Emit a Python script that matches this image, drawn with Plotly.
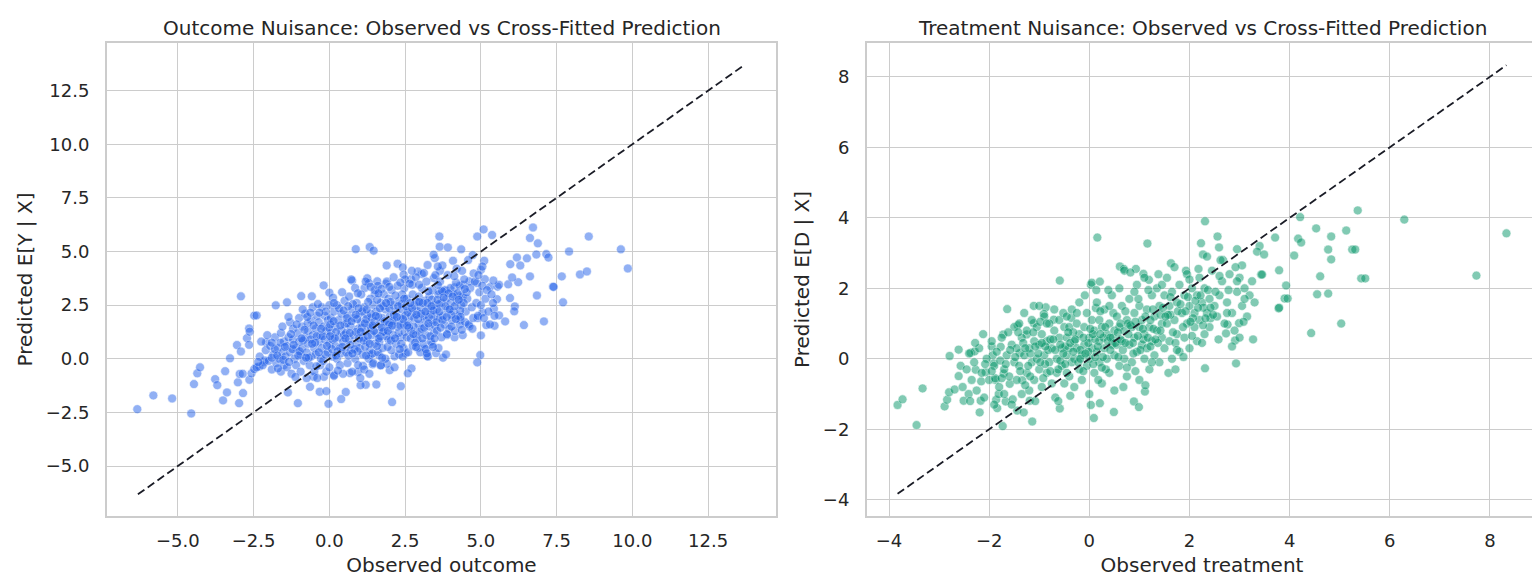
import plotly.graph_objects as go

# Outcome nuisance: (observed outcome, predicted E[Y|X])
outcome_sparse = [
    (-6.34, -2.35), (-5.81, -1.71), (-5.19, -1.85), (-4.56, -2.55), (-4.47, -1.18), (-4.36, -0.68),
    (-4.27, -0.40), (-3.77, -0.95), (-3.70, -1.23), (-3.44, -0.58), (-3.51, -1.94), (-3.38, -1.57),
    (-3.28, 0.02), (-3.05, 0.64), (-2.98, -2.07), (-3.02, -1.10), (-2.85, -1.60), (-2.92, 2.91),
    (-2.92, 0.34), (-2.72, 0.96), (-2.65, 0.65), (-2.65, 1.41), (-2.63, 1.26), (-2.48, 2.01),
    (-2.40, 2.02), (-2.96, -0.71), (-2.86, -0.70), (-2.64, -0.98), (-2.57, -0.68), (-2.48, -0.48),
    (-2.31, -0.36), (-2.15, -0.15), (-2.13, -0.08), (-2.09, 0.76), (-1.77, 2.49), (-1.40, 2.63),
    (-1.37, -1.57),
    (0.87, 5.11), (1.33, 5.21), (1.46, 5.04), (1.89, 4.35), (2.25, 4.43), (2.42, 4.26), (2.45, 3.92),
    (-0.19, 3.42), (0.0, 3.08), (0.75, 3.64), (1.25, 3.75), (1.31, 3.53), (1.16, 3.30), (1.58, 3.61),
    (1.86, 3.50), (-0.93, 2.92), (-0.58, 2.91), (1.50, 3.05), (2.69, 3.71), (3.05, 3.95), (2.92, 4.07),
    (3.24, 4.37), (3.48, 4.69), (3.64, 5.22), (4.73, 4.83), (3.65, 4.10), (3.73, 4.35), (3.44, 3.76),
    (3.63, 3.14), (3.86, 3.17), (4.13, 3.33), (4.41, 3.45), (4.62, 3.61), (4.87, 3.53), (5.30, 3.34),
    (3.39, 0.67), (3.15, 0.47), (2.92, 0.51), (3.22, 0.14), (3.52, 0.26), (2.74, 3.45), (2.47, 3.29),
    (2.71, -0.45), (2.59, -0.68), (2.36, -1.28), (1.99, -0.53), (1.55, -1.20), (1.20, -1.21),
    (1.03, -1.23), (0.54, -1.55), (0.39, -1.88), (-0.03, -2.10), (2.07, -2.02), (-1.04, -2.07),
    (-0.64, -1.31), (-0.32, -1.54), (-0.10, -1.51), (-0.52, -0.84), (-0.18, -0.84), (0.15, -0.75),
    (0.68, -0.67), (0.94, -0.62), (1.11, -0.33), (1.43, -0.26), (1.69, -0.31), (1.90, -0.23),
    (2.15, 0.11), (2.52, 0.25), (1.64, 0.16), (1.37, 0.17),
    (3.63, 5.70), (3.91, 5.19), (4.35, 5.10), (5.09, 6.03), (4.88, 5.70), (5.37, 5.77), (6.72, 6.12),
    (6.62, 5.63), (6.88, 5.38), (8.56, 5.70), (9.62, 5.10), (9.85, 4.21), (7.91, 5.0), (7.16, 4.88),
    (7.23, 4.72), (6.83, 4.86), (6.52, 4.68), (6.19, 4.72), (5.97, 4.41), (6.30, 4.35), (6.62, 3.84),
    (7.67, 3.84), (8.27, 3.93), (8.50, 4.07), (7.38, 3.36), (7.40, 3.35), (6.85, 2.95), (7.71, 2.63),
    (5.96, 2.83), (6.12, 2.44), (6.10, 2.21), (6.23, 3.57), (5.90, 3.47), (6.03, 3.79), (5.55, 3.36),
    (5.60, 3.45), (5.41, 3.65), (5.53, 2.78), (5.43, 2.33), (5.60, 2.02), (5.80, 1.74), (5.45, 1.54),
    (5.18, 1.57), (6.42, 1.57), (7.08, 1.74), (5.0, 1.09), (4.98, 0.17), (4.88, -0.17), (3.75, 0.05),
    (4.13, 1.0), (3.88, 1.10), (4.32, 1.82), (4.62, 1.51), (5.05, 2.16), (4.89, 1.90), (5.13, 3.71),
    (5.0, 4.15), (4.76, 3.98), (5.11, 4.57), (4.32, 2.95), (3.44, 4.85), (4.08, 4.57),
]

outcome_dense = [
    (-2.4, -0.4), (-2.3, 0.1), (-2.2, -0.3), (-2.1, 0.4), (-2.0, -0.1), (-1.95, 0.6), (-1.9, -0.5),
    (-1.85, 0.2), (-1.8, 1.0), (-1.75, -0.2), (-1.7, 0.5), (-1.65, 0.0), (-1.6, 1.2), (-1.6, -0.6),
    (-1.55, 0.3), (-1.5, 0.8), (-1.5, -0.3), (-2.25, 0.8), (-2.05, 1.1), (-1.9, 0.05), (-1.7, -0.45),
    (-1.55, 1.5), (-2.35, -0.15), (-1.8, 0.45), (-1.62, 0.75),
    (-1.45, 0.1), (-1.4, 0.6), (-1.4, -0.4), (-1.35, 1.0), (-1.3, 1.7), (-1.3, 0.3), (-1.25, -0.7),
    (-1.2, 0.9), (-1.2, 1.4), (-1.15, 0.0), (-1.1, 0.5), (-1.1, -0.3), (-1.05, 1.2), (-1.0, 0.8),
    (-1.0, 1.9), (-0.95, -0.6), (-0.95, 0.2), (-0.9, 1.5), (-0.9, 0.5), (-0.85, -0.1), (-0.8, 1.0),
    (-0.8, 2.1), (-0.75, 0.3), (-0.75, -0.9), (-0.7, 1.3), (-0.7, 0.7), (-0.65, -0.3), (-0.6, 1.8),
    (-0.6, 0.1), (-0.55, 1.1), (-0.55, 2.4), (-0.5, 0.5), (-0.5, -0.6), (-1.35, 1.95), (-1.22, 0.45),
    (-0.88, 2.3), (-1.08, 1.6), (-0.62, 0.9), (-1.47, 0.55), (-0.72, 1.65),
    (-0.45, 1.4), (-0.45, 0.2), (-0.4, 2.0), (-0.4, -0.9), (-0.35, 0.8), (-0.35, 1.7), (-0.3, -0.3),
    (-0.3, 1.1), (-0.25, 2.4), (-0.25, 0.5), (-0.2, 1.5), (-0.2, -0.1), (-0.15, 0.9), (-0.15, 2.0),
    (-0.1, -0.6), (-0.1, 1.3), (-0.05, 0.3), (-0.05, 1.8), (0.0, 0.7), (0.0, 2.5), (0.0, -0.4),
    (0.05, 1.2), (0.05, 1.9), (0.1, 0.1), (0.1, 0.9), (0.15, 2.2), (0.15, -0.8), (0.2, 1.5), (0.2, 0.6),
    (0.25, 2.5), (0.25, 0.0), (0.3, 1.0), (0.3, 1.8), (0.35, -0.3), (0.35, 0.5), (0.4, 2.1), (0.4, 1.3),
    (0.45, 0.8), (0.45, -0.7), (0.5, 1.6), (0.5, 2.7), (-0.42, 1.05), (-0.28, 0.0), (-0.12, 2.2),
    (0.08, 0.45), (0.22, 1.25), (0.38, 0.25), (0.48, 1.1), (-0.02, 1.45), (0.12, 2.85), (-0.38, 2.55),
    (0.28, -0.55),
    (0.55, 0.3), (0.55, 1.2), (0.6, 2.0), (0.6, -0.2), (0.65, 0.9), (0.65, 2.9), (0.7, 1.5), (0.7, 0.4),
    (0.75, 2.3), (0.75, -0.6), (0.8, 1.1), (0.8, 1.9), (0.85, 0.0), (0.85, 3.3), (0.9, 0.7), (0.9, 2.6),
    (0.95, 1.4), (0.95, -0.3), (1.0, 2.1), (1.0, 0.5), (1.05, 1.7), (1.05, 3.0), (1.1, 0.2), (1.1, 1.0),
    (1.15, 2.4), (1.15, -0.5), (1.2, 1.3), (1.2, 3.6), (1.25, 0.8), (1.25, 2.0), (1.3, 0.0), (1.3, 1.6),
    (1.35, 2.8), (1.35, 0.4), (1.4, 1.9), (1.4, 1.1), (1.45, -0.2), (1.45, 2.5), (1.5, 0.7), (1.5, 3.2),
    (0.58, 1.65), (0.68, 0.65), (0.78, 2.55), (0.88, 1.25), (0.98, 0.95), (1.08, 2.2), (1.18, 0.55),
    (1.28, 2.65), (1.38, 1.45), (1.48, 1.75), (0.62, 2.45), (0.92, 1.85), (1.22, 1.85), (1.42, 0.25),
    (0.72, 3.7), (1.02, -0.9), (1.32, -0.7),
    (1.55, 1.2), (1.55, 2.2), (1.6, 0.3), (1.6, 3.4), (1.65, 1.6), (1.65, 0.8), (1.7, 2.6), (1.7, -0.3),
    (1.75, 1.9), (1.75, 0.5), (1.8, 3.0), (1.8, 1.3), (1.85, 2.3), (1.85, 0.0), (1.9, 1.7), (1.9, 3.6),
    (1.95, 0.9), (1.95, 2.8), (2.0, 1.4), (2.0, 2.0), (2.05, 0.4), (2.05, 3.2), (2.1, 1.1), (2.1, 2.5),
    (2.15, 1.8), (2.15, -0.4), (2.2, 2.2), (2.2, 0.7), (2.25, 3.4), (2.25, 1.5), (2.3, 2.7), (2.3, 0.2),
    (2.35, 1.9), (2.35, 1.0), (2.4, 3.0), (2.4, 2.3), (2.45, 0.5), (2.45, 1.6), (2.5, 2.0), (2.5, 3.7),
    (1.58, 2.75), (1.68, 1.05), (1.78, 2.45), (1.88, 1.05), (1.98, 2.35), (2.08, 1.75), (2.18, 2.95),
    (2.28, 1.2), (2.38, 2.55), (2.48, 1.25), (1.62, 1.95), (1.92, 0.55), (2.12, 3.8), (2.42, 0.1),
    (1.72, 3.25), (2.02, 2.65),
    (2.55, 1.0), (2.55, 2.8), (2.6, 1.7), (2.6, 0.3), (2.65, 2.3), (2.65, 3.5), (2.7, 1.3), (2.7, 2.0),
    (2.75, 0.6), (2.75, 3.0), (2.8, 1.9), (2.8, 2.5), (2.85, 1.1), (2.85, 3.8), (2.9, 2.2), (2.9, 0.9),
    (2.95, 1.6), (2.95, 2.9), (3.0, 0.3), (3.0, 2.4), (3.05, 1.4), (3.05, 3.3), (3.1, 2.0), (3.1, 0.7),
    (3.15, 2.7), (3.15, 1.8), (3.2, 1.1), (3.2, 3.6), (3.25, 2.3), (3.25, 0.1), (3.3, 1.5), (3.3, 2.9),
    (3.35, 2.1), (3.35, 0.8), (3.4, 3.2), (3.4, 1.8), (3.45, 2.5), (3.45, 1.2), (3.5, 2.0), (3.5, 3.9),
    (2.58, 2.15), (2.68, 0.95), (2.78, 1.5), (2.88, 2.65), (2.98, 1.25), (3.08, 2.6), (3.18, 0.45),
    (3.28, 1.95), (3.38, 2.75), (3.48, 1.55), (2.72, 4.1), (3.12, 4.0), (3.22, 0.25),
    (3.55, 2.3), (3.55, 1.3), (3.6, 3.0), (3.6, 0.5), (3.65, 1.9), (3.65, 3.6), (3.7, 2.6), (3.7, 1.0),
    (3.75, 2.0), (3.8, 3.2), (3.8, 1.6), (3.85, 2.8), (3.85, 0.2), (3.9, 2.3), (3.9, 3.9), (3.95, 1.4),
    (4.0, 2.6), (4.0, 3.3), (4.05, 1.8), (4.1, 2.2), (4.1, 3.0), (4.15, 1.3), (4.2, 2.7), (4.2, 4.2),
    (4.25, 2.0), (4.3, 3.4), (4.3, 1.6), (4.35, 2.5), (4.4, 2.9), (4.4, 1.1), (4.45, 3.7), (4.5, 2.2),
    (3.58, 4.3), (3.72, 3.15), (3.88, 1.15), (4.02, 2.05), (4.18, 3.55), (4.32, 2.25), (4.48, 1.7),
    (3.62, 2.55),
    (4.55, 2.8), (4.6, 1.6), (4.65, 3.3), (4.7, 2.4), (4.75, 1.9), (4.8, 3.6), (4.85, 2.6), (4.9, 2.0),
    (4.95, 3.1), (5.0, 2.5), (5.05, 3.4), (5.1, 1.9), (5.15, 2.8), (5.2, 3.2), (5.25, 2.2), (5.3, 1.6),
    (5.35, 3.0), (5.4, 2.6), (4.58, 4.6), (4.72, 1.4), (4.92, 3.9), (5.05, 4.3), (5.45, 2.0),
]

# second pass over the crowded middle of the outcome cloud
outcome_core = [
    (-0.98, 0.35), (-0.82, 1.35), (-0.68, 0.05), (-0.52, 1.55), (-0.47, 0.75), (-0.33, 2.15),
    (-0.22, 1.05), (-0.08, 0.6), (0.03, 1.6), (0.18, 0.95), (0.32, 2.35), (0.43, 0.55), (0.57, 1.9),
    (0.67, 1.2), (0.83, 0.45), (0.97, 2.35), (1.07, 1.45), (1.13, 0.85), (1.27, 1.05), (1.37, 2.1),
    (1.47, 1.3), (1.57, 0.6), (1.67, 2.35), (1.77, 1.25), (1.83, 1.75), (1.97, 1.6), (2.03, 0.85),
    (2.13, 2.05), (2.27, 2.45), (2.33, 1.55), (2.43, 1.85), (2.53, 2.45), (2.63, 1.45), (2.73, 2.35),
    (2.83, 0.75), (2.93, 1.85), (3.03, 2.1), (3.13, 1.45), (3.23, 2.6), (3.33, 1.05), (3.43, 2.25),
    (3.53, 1.7), (3.63, 2.2), (3.73, 1.8), (3.83, 2.45), (3.93, 3.05), (4.03, 1.5), (4.13, 2.45),
    (4.23, 3.05), (4.33, 1.95), (4.43, 2.6), (4.53, 3.1),
    (-1.03, 0.15), (-0.87, 0.85), (-0.73, 1.95), (-0.57, 0.7), (-0.43, -0.35), (-0.27, 1.4),
    (-0.13, 0.2), (0.02, 1.05), (0.14, 1.75), (0.27, 0.35), (0.36, 1.55), (0.47, 2.25), (0.53, 0.95),
    (0.63, 0.15), (0.73, 1.75), (0.87, 2.05), (0.93, 0.35), (1.03, 1.25), (1.17, 1.65), (1.23, 2.3),
    (1.33, 0.7), (1.43, 1.55), (1.53, 2.0), (1.63, 0.95), (1.73, 1.45), (1.87, 2.6), (1.93, 1.3),
    (2.07, 1.55), (2.17, 0.95), (2.23, 1.95), (2.37, 0.7), (2.47, 2.8), (2.57, 1.55), (2.67, 2.6),
    (2.77, 1.15), (2.87, 2.05), (2.97, 2.65), (3.07, 0.95), (3.17, 2.2), (3.27, 1.65), (3.37, 2.45),
    (3.47, 0.95), (3.57, 2.75), (3.67, 1.45), (3.77, 2.85), (3.87, 1.95), (3.97, 2.3), (4.07, 2.9),
    (4.17, 1.85), (4.27, 2.75), (4.37, 1.35), (4.47, 3.25),
    (-1.9, 0.75), (-1.72, 0.15), (-1.52, -0.05), (-1.33, -0.15), (-1.18, 0.65), (-1.27, 1.15),
    (-0.92, 0.95), (-0.77, 0.05), (-1.12, -0.85), (-0.35, 0.3), (0.22, 0.15), (0.76, 0.25),
    (1.21, 0.15), (1.74, 0.05), (2.32, 0.45), (2.86, 0.55), (3.42, 0.55), (-0.63, 2.15), (0.15, 2.6),
    (0.94, 3.05), (1.62, 3.05), (2.34, 3.55), (2.96, 3.45), (3.58, 3.45), (4.12, 3.85), (0.42, 3.1),
    (1.36, 3.35), (1.98, 3.35), (3.27, 3.15), (4.38, 4.1),
]

# Treatment nuisance: (observed treatment, predicted E[D|X])
treatment_sparse = [
    (-3.83, -1.31), (-3.73, -1.15), (-3.45, -1.88), (-3.33, -0.84), (-2.89, -1.35), (-2.84, -1.16),
    (-2.80, -0.95), (-2.79, 0.08), (-2.69, -0.87), (-2.61, 0.26), (-2.61, -0.49), (-2.57, -0.20),
    (-2.51, -1.19), (-2.53, -0.80), (-2.41, -1.0), (-2.37, 0.17), (-2.29, 0.21), (-2.27, -0.31),
    (-2.19, -1.52), (-2.17, -1.19), (-2.16, -0.64), (-2.07, -0.38), (-1.95, 0.35), (-1.93, 0.10),
    (-1.91, -0.13), (-1.87, -0.60), (-1.84, -1.40), (-1.86, -1.16), (-1.81, -1.0), (-1.73, -1.91),
    (-1.71, -0.42), (-1.72, 0.69), (-1.64, 1.41), (-1.77, 0.34), (-1.67, -1.21), (-1.59, -0.71),
    (-1.53, -1.15), (-1.44, -1.47), (-1.43, 0.95), (-1.39, 0.16), (-1.34, -0.61), (-1.31, -1.52),
    (-1.25, 0.69), (-1.19, -1.19), (-1.14, -1.78), (-1.11, 1.50), (-1.11, 1.01), (-0.87, 1.46),
    (-0.91, 1.27), (-0.71, 1.11), (-0.59, 2.22), (-0.59, -1.41), (-0.36, 1.16), (-0.09, 1.80),
    (0.03, 2.10), (0.05, 2.16), (0.16, 3.44), (0.21, 2.19), (0.14, 1.95), (0.13, 1.44), (0.03, -1.31),
    (0.09, -1.68), (0.21, -1.26), (0.49, -1.51), (0.89, -1.21), (0.99, -1.37), (1.16, 3.27),
    (1.11, -0.93), (0.61, 2.62), (0.69, 2.55), (0.93, 2.55), (1.08, 2.41), (1.19, 2.24), (1.63, 2.71),
    (1.93, 2.50),
    (2.31, 3.90), (5.36, 4.21), (6.29, 3.95), (8.33, 3.56), (7.73, 2.36), (4.21, 4.02), (4.53, 3.70),
    (4.83, 3.47), (5.13, 3.64), (4.77, 3.10), (4.83, 2.82), (5.25, 3.10), (5.31, 3.10), (4.17, 3.41),
    (4.23, 3.30), (4.09, 2.93), (3.71, 3.44), (3.40, 3.20), (3.35, 3.04), (3.49, 2.96), (2.95, 3.11),
    (2.56, 3.47), (2.59, 3.16), (2.23, 3.28), (2.27, 2.96), (2.67, 2.80), (3.05, 2.65), (3.79, 2.51),
    (3.43, 2.39), (3.45, 2.39), (4.61, 2.34), (5.43, 2.28), (5.51, 2.28), (3.93, 2.08), (3.90, 1.71),
    (3.96, 1.71), (3.78, 1.43), (3.79, 1.45), (4.55, 1.83), (4.77, 1.85), (5.03, 1.0), (4.43, 0.73),
    (3.27, 0.55), (2.93, -0.13), (2.31, -0.27), (2.91, 0.52), (2.76, 0.97), (2.99, 1.01), (2.73, 0.72),
]

treatment_dense = [
    (-2.45, -0.3), (-2.4, 0.15), (-2.35, -0.6), (-2.3, -0.1), (-2.25, -0.9), (-2.2, 0.3), (-2.15, -0.4),
    (-2.1, -1.1), (-2.05, 0.0), (-2.0, -0.6), (-1.95, 0.5), (-1.9, -0.2), (-1.9, -1.3), (-1.85, 0.2),
    (-1.8, -0.8), (-1.75, 0.6), (-1.7, -0.3), (-1.7, -1.0), (-1.65, 0.1), (-1.6, -0.5), (-1.55, 0.4),
    (-1.55, -1.3), (-1.5, -0.1), (-1.5, 0.9), (-2.38, -1.2), (-2.12, 0.7), (-1.88, -0.55),
    (-1.62, 0.75), (-2.28, 0.45), (-1.78, -0.05),
    (-1.45, -0.6), (-1.45, 0.3), (-1.4, 1.0), (-1.4, -0.2), (-1.35, 0.6), (-1.35, -1.0), (-1.3, 0.1),
    (-1.3, 1.3), (-1.25, -0.4), (-1.25, 0.8), (-1.2, 0.3), (-1.2, -0.9), (-1.15, 1.1), (-1.15, -0.1),
    (-1.1, 0.5), (-1.1, -0.6), (-1.05, 0.0), (-1.05, 0.9), (-1.0, -0.3), (-1.0, 0.4), (-1.0, 1.5),
    (-0.95, -0.8), (-0.95, 0.7), (-0.9, 0.1), (-0.9, 1.2), (-0.85, -0.4), (-0.85, 0.5), (-0.8, 1.0),
    (-0.8, -0.1), (-0.75, 0.3), (-0.75, -0.7), (-0.7, 0.8), (-0.7, 1.4), (-0.65, 0.0), (-0.65, -0.4),
    (-0.6, 0.6), (-0.6, 1.1), (-0.55, -0.2), (-0.55, 0.3), (-0.5, 0.9), (-0.5, -0.7), (-1.42, 0.75),
    (-1.18, 0.15), (-0.98, 1.05), (-0.78, 0.55), (-0.58, -0.05), (-0.52, 1.3), (-1.28, -0.75),
    (-0.88, -0.15), (-0.68, -1.1), (-1.08, -1.2), (-0.62, -1.2),
    (-0.45, 0.1), (-0.45, 0.6), (-0.45, 1.2), (-0.4, -0.5), (-0.4, 0.3), (-0.4, 0.9), (-0.35, -0.1),
    (-0.35, 1.4), (-0.3, 0.5), (-0.3, -0.8), (-0.3, 0.0), (-0.25, 1.0), (-0.25, 0.3), (-0.2, -0.3),
    (-0.2, 0.7), (-0.2, 1.6), (-0.15, 0.1), (-0.15, -0.6), (-0.1, 0.9), (-0.1, 0.4), (-0.05, -0.2),
    (-0.05, 1.3), (0.0, 0.6), (0.0, 0.0), (0.0, -1.0), (0.05, 1.1), (0.05, 0.3), (0.1, -0.4),
    (0.1, 0.8), (0.15, 1.6), (0.15, 0.2), (0.2, -0.1), (0.2, 0.5), (0.2, 1.1), (0.25, -0.7), (0.25, 0.9),
    (0.3, 0.3), (0.3, 1.4), (0.35, 0.0), (0.35, 0.7), (0.4, -0.4), (0.4, 1.0), (0.45, 0.4), (0.45, 1.8),
    (0.5, 0.1), (0.5, 0.8), (0.5, -0.9), (-0.48, 0.35), (-0.32, 0.75), (-0.18, 0.25), (-0.02, 0.45),
    (0.12, 0.55), (0.28, 0.6), (0.42, 0.25), (0.08, -0.15), (-0.12, -0.35), (0.22, 1.35), (0.38, 1.95),
    (0.48, 1.3), (-0.38, -1.05), (0.18, -0.6), (0.33, -0.3),
    (0.55, 0.4), (0.55, 1.2), (0.6, -0.2), (0.6, 0.9), (0.6, 2.0), (0.65, 0.5), (0.65, 1.5), (0.7, 0.0),
    (0.7, 0.8), (0.7, 2.5), (0.75, -0.5), (0.75, 1.1), (0.8, 0.4), (0.8, 1.7), (0.85, 0.9), (0.85, -0.1),
    (0.9, 1.3), (0.9, 0.6), (0.95, 2.1), (0.95, 0.2), (1.0, 0.9), (1.0, -0.6), (1.0, 1.5), (1.05, 0.4),
    (1.05, 1.1), (1.1, 0.0), (1.1, 0.7), (1.1, 2.3), (1.15, 1.4), (1.15, 0.3), (1.2, -0.3), (1.2, 0.9),
    (1.25, 1.8), (1.25, 0.5), (1.3, 1.2), (1.3, 0.1), (1.35, 0.8), (1.35, 2.0), (1.4, 1.5), (1.4, -0.1),
    (1.45, 0.6), (1.45, 1.0), (1.5, 1.8), (1.5, 0.3), (0.58, 0.05), (0.72, 1.35), (0.88, 0.15),
    (0.98, 1.7), (1.08, 0.55), (1.18, 1.95), (1.28, 0.85), (1.42, 1.25), (0.68, -0.8), (0.92, -0.35),
    (1.12, -0.75), (0.82, 2.45), (1.38, 2.4), (0.62, 1.0), (0.78, 0.7), (1.22, 0.35),
    (1.55, 1.0), (1.55, 2.3), (1.6, 0.5), (1.6, 1.5), (1.65, 0.0), (1.65, 1.9), (1.7, 1.1), (1.7, 2.6),
    (1.75, 0.7), (1.75, 1.6), (1.8, 0.2), (1.8, 2.1), (1.85, 1.3), (1.9, 0.6), (1.9, 1.8), (1.95, 2.4),
    (1.95, 1.0), (2.0, 0.3), (2.0, 1.5), (2.05, 2.0), (2.1, 0.9), (2.1, 1.3), (2.15, 1.8), (2.15, 0.5),
    (2.2, 2.3), (2.2, 1.1), (2.25, 1.6), (2.3, 0.7), (2.3, 2.0), (2.35, 1.3), (2.4, 1.7), (2.4, 0.9),
    (2.45, 2.5), (2.5, 1.5), (1.58, -0.4), (1.72, -0.3), (1.88, 0.05), (2.05, 0.65), (2.28, 1.45),
    (2.42, 1.15), (1.62, 1.25), (2.18, 2.55), (2.35, 2.9),
    (2.55, 1.2), (2.6, 1.8), (2.65, 2.2), (2.7, 1.0), (2.75, 1.6), (2.8, 2.4), (2.85, 1.3), (2.9, 0.8),
    (2.95, 1.9), (3.0, 2.3), (3.05, 1.5), (3.1, 2.0), (3.15, 1.2), (3.2, 1.8), (3.25, 2.2), (3.3, 1.6),
    (2.62, 2.8), (2.78, 1.95), (2.92, 2.6), (3.08, 1.05), (2.58, 0.55), (3.0, 0.6), (2.85, 0.35),
]

# second pass over the crowded middle of the treatment cloud
treatment_core = [
    (-1.48, 0.05), (-1.32, 0.45), (-1.22, -0.2), (-1.12, 0.75), (-1.02, 0.15), (-0.92, -0.55),
    (-0.82, 0.25), (-0.72, 0.55), (-0.62, -0.3), (-0.52, 0.15), (-0.42, 0.75), (-0.32, 0.2),
    (-0.22, -0.1), (-0.12, 0.6), (-0.02, 0.2), (0.07, 0.7), (0.17, 0.35), (0.27, 0.05), (0.37, 0.5),
    (0.47, 0.6), (0.57, 0.75), (0.67, 0.25), (0.77, 1.0), (0.87, 0.45), (0.97, 0.65), (1.07, 0.85),
    (1.17, 0.6), (1.27, 1.4), (1.37, 0.45), (1.47, 1.45), (1.57, 1.25), (1.67, 0.75), (1.77, 1.35),
    (1.87, 0.9), (1.97, 1.75), (2.07, 1.15), (2.17, 1.45), (2.27, 0.95), (2.37, 1.95), (2.47, 1.25),
    (-1.38, -0.35), (-1.28, 0.3), (-1.18, -0.5), (-1.08, 0.35), (-0.98, -0.1), (-0.88, 0.35),
    (-0.78, -0.35), (-0.68, 0.25), (-0.58, 0.4), (-0.48, -0.15), (-0.38, 0.45), (-0.28, 0.55),
    (-0.18, 0.0), (-0.08, 0.15), (0.02, 0.85), (0.12, 0.05), (0.22, 0.7), (0.32, 0.9), (0.42, 0.6),
    (0.52, 0.45), (0.62, 0.55), (0.72, 0.45), (0.82, 0.95), (0.92, 1.05), (1.02, 0.25), (1.12, 1.2),
    (1.22, 1.1), (1.32, 0.55), (1.42, 0.8), (1.52, 1.2), (1.62, 1.75), (1.72, 0.45), (1.82, 1.55),
    (1.92, 1.35), (2.02, 1.05), (2.12, 1.65), (2.22, 1.8), (2.32, 1.15), (2.42, 1.45), (2.52, 1.9),
    (-1.95, -0.35), (-1.75, -0.55), (-1.58, 0.25), (-2.08, -0.15), (-1.67, -0.15), (-0.95, 0.45),
    (-0.45, -0.4), (0.25, -0.25), (0.75, -0.25), (1.25, -0.1), (1.75, 0.25), (2.25, 0.45),
    (-0.85, 1.0), (-0.25, 1.3), (0.4, 1.5), (0.9, 1.9), (1.45, 2.1), (2.0, 2.25), (2.6, 2.35),
    (2.75, 1.3), (3.1, 1.7), (2.95, 2.2),
]

outcome_ticks = [-5.0, -2.5, 0.0, 2.5, 5.0, 7.5, 10.0, 12.5]
outcome_ticktext = ["\u22125.0", "\u22122.5", "0.0", "2.5", "5.0", "7.5", "10.0", "12.5"]
treatment_ticks = [-4, -2, 0, 2, 4, 6, 8]
treatment_ticktext = ["\u22124", "\u22122", "0", "2", "4", "6", "8"]

# ends of the dashed y = x reference line
outcome_diag = [-6.32, 13.72]
treatment_diag = [-3.83, 8.33]

W, H = 1540, 580
TEXT = "#262626"
GRID = "#cccccc"
FONT = "DejaVu Sans"

outcome = outcome_sparse + outcome_dense + outcome_core
treatment = treatment_sparse + treatment_dense + treatment_core

fig = go.Figure()


def add_panel(fig, pts, diag, color, xa, ya):
    fig.add_trace(go.Scatter(
        x=[p[0] for p in pts], y=[p[1] for p in pts],
        mode="markers", xaxis=xa, yaxis=ya, showlegend=False,
        marker=dict(size=9, color=color, opacity=0.5, line=dict(color="white", width=0.6)),
    ))
    fig.add_trace(go.Scatter(
        x=diag, y=diag, mode="lines", xaxis=xa, yaxis=ya, showlegend=False,
        line=dict(color="#1a1c26", width=1.8, dash="8px,4px"),
    ))


add_panel(fig, outcome, outcome_diag, "#2563eb", "x", "y")
add_panel(fig, treatment, treatment_diag, "#059669", "x2", "y2")

axis_common = dict(
    showgrid=True, gridcolor=GRID, gridwidth=1.3, zeroline=False,
    showline=True, mirror=True, linecolor=GRID, linewidth=2,
    ticks="outside", tickcolor="rgba(0,0,0,0)",
    tickfont=dict(family=FONT, size=18, color=TEXT), automargin=False,
)
ydom = [72 / H, 545 / H]
xtitle = dict(font=dict(size=20, color=TEXT), standoff=8)
ytitle = dict(font=dict(size=20, color=TEXT), standoff=8)

fig.update_layout(
    width=W, height=H, plot_bgcolor="white", paper_bgcolor="white",
    margin=dict(l=0, r=0, t=0, b=0),
    font=dict(family=FONT, color=TEXT),
    xaxis=dict(axis_common, domain=[99 / W, 768 / W], range=[-7.34, 14.74], ticklen=7,
               tickvals=outcome_ticks, ticktext=outcome_ticktext,
               title=dict(xtitle, text="Observed outcome")),
    yaxis=dict(axis_common, domain=ydom, range=[-7.33, 14.72], anchor="x", ticklen=12,
               tickvals=outcome_ticks, ticktext=outcome_ticktext,
               title=dict(ytitle, text="Predicted E[Y | X]")),
    xaxis2=dict(axis_common, domain=[859 / W, 1529 / W], range=[-4.44, 8.94], anchor="y2", ticklen=7,
                tickvals=treatment_ticks, ticktext=treatment_ticktext,
                title=dict(xtitle, text="Observed treatment")),
    yaxis2=dict(axis_common, domain=ydom, range=[-4.46, 8.96], anchor="x2", ticklen=12,
                tickvals=treatment_ticks, ticktext=treatment_ticktext,
                title=dict(ytitle, text="Predicted E[D | X]")),
    annotations=[
        dict(text="Outcome Nuisance: Observed vs Cross-Fitted Prediction", x=(99 + 768) / 2 / W,
             y=1 - 20 / H, xref="paper", yref="paper", showarrow=False,
             font=dict(size=20, color=TEXT), xanchor="center", yanchor="middle"),
        dict(text="Treatment Nuisance: Observed vs Cross-Fitted Prediction", x=(859 + 1529) / 2 / W,
             y=1 - 20 / H, xref="paper", yref="paper", showarrow=False,
             font=dict(size=20, color=TEXT), xanchor="center", yanchor="middle"),
    ],
)

fig.write_html("out.html")
